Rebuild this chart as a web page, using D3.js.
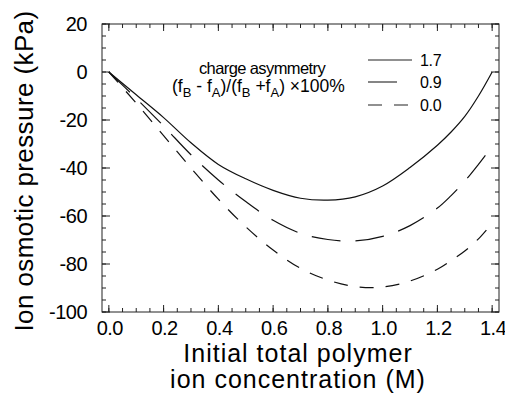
<!DOCTYPE html>
<html>
<head>
<meta charset="utf-8">
<script src="https://cdn.jsdelivr.net/npm/d3@7"></script>
<style>
  body { margin: 0; background: #fff; }
  text { font-family: "Liberation Sans", Arial, sans-serif; fill: #000; }
</style>
</head>
<body>
<div class="board"></div>
<script>
// osmotic pressure vs polymer ion concentration, three charge asymmetries

var width = 505;
var height = 396;

var conc = [0, 0.1, 0.2, 0.3, 0.4, 0.5, 0.6, 0.7, 0.8, 0.9, 1.0, 1.1, 1.2, 1.25, 1.3, 1.35, 1.4];
var p17 = [0, -9.5, -19, -29.5, -38.5, -44.5, -49.3, -52.6, -53.4, -52, -47.5, -39.8, -30.5, -25, -18.5, -10, 0];
var p09 = [0, -11, -22.5, -34.5, -45, -54, -61.8, -67.2, -69.8, -70.4, -68.5, -64, -56.7, -51.5, -45.5, -38.5, -31];
var p00 = [0, -13, -26.5, -40, -53, -64.5, -74.2, -81.8, -86.7, -89.4, -89.6, -87.1, -82.2, -78.6, -74.6, -69.5, -63];

var seriesNames = ['1.7', '0.9', '0.0'];
var seriesVals = [p17, p09, p00];
var dashes = [null, '29,15', '14,12'];

var xTicks = [0, 0.2, 0.4, 0.6, 0.8, 1.0, 1.2, 1.4];
var yTicks = [20, 0, -20, -40, -60, -80, -100];

var pLeft = 102, pRight = 499, pTop = 24, pBottom = 312;

var svg = d3.select('.board').append('svg')
    .attr('width', width)
    .attr('height', height);

var x = d3.scaleLinear().domain([-0.025, 1.425]).range([pLeft, pRight]);
var y = d3.scaleLinear().domain([-100, 20]).range([pBottom, pTop]);

// frame
svg.append('rect')
    .attr('x', pLeft).attr('y', pTop)
    .attr('width', pRight - pLeft).attr('height', pBottom - pTop)
    .attr('fill', 'none').attr('stroke', '#222').attr('stroke-width', 1);

// ticks, inward on all four sides
var xMinor = d3.range(0, 1.4001, 0.05);
var yMinor = d3.range(-100, 20.001, 5);

function tickLines(g, vals, len, horiz) {
  vals.forEach(function (v) {
    if (horiz) {
      g.append('line').attr('x1', x(v)).attr('x2', x(v)).attr('y1', pBottom).attr('y2', pBottom - len);
      g.append('line').attr('x1', x(v)).attr('x2', x(v)).attr('y1', pTop).attr('y2', pTop + len);
    } else {
      g.append('line').attr('y1', y(v)).attr('y2', y(v)).attr('x1', pLeft).attr('x2', pLeft + len);
      g.append('line').attr('y1', y(v)).attr('y2', y(v)).attr('x1', pRight).attr('x2', pRight - len);
    }
  });
}
var tg = svg.append('g').attr('stroke', '#222').attr('stroke-width', 1);
tickLines(tg, xMinor, 4, true);
tickLines(tg, xTicks, 7, true);
tickLines(tg, yMinor, 4, false);
tickLines(tg, yTicks, 8, false);

// tick labels
svg.append('g').selectAll('text').data(xTicks).enter().append('text')
    .attr('x', function (d) { return x(d) + 1; })
    .attr('y', 335)
    .attr('text-anchor', 'middle')
    .style('font-size', '20px')
    .style('letter-spacing', '-0.5px')
    .text(function (d) { return d.toFixed(1); });

svg.append('g').selectAll('text').data(yTicks).enter().append('text')
    .attr('x', 87)
    .attr('y', function (d) { return y(d) + 7; })
    .attr('text-anchor', 'end')
    .style('font-size', '20px')
    .style('letter-spacing', '-0.5px')
    .text(function (d) { return d; });

// axis titles
svg.append('text')
    .attr('transform', 'translate(33,' + 171 + ') rotate(-90)')
    .attr('text-anchor', 'middle')
    .style('font-size', '26px')
    .style('letter-spacing', '0.4px')
    .text('Ion osmotic pressure (kPa)');

svg.append('text').attr('x', 298).attr('y', 362)
    .attr('text-anchor', 'middle').style('font-size', '25px')
    .style('letter-spacing', '1px')
    .text('Initial total polymer');
svg.append('text').attr('x', 298).attr('y', 388)
    .attr('text-anchor', 'middle').style('font-size', '25px')
    .style('letter-spacing', '1px')
    .text('ion concentration (M)');

// curves
var line = d3.line()
    .x(function (d, i) { return x(conc[i]); })
    .y(function (d) { return y(d); })
    .curve(d3.curveCatmullRom);

svg.append('g').selectAll('path').data(seriesVals).enter().append('path')
    .attr('d', line)
    .attr('fill', 'none')
    .attr('stroke', '#111')
    .attr('stroke-width', 1.2)
    .attr('stroke-dasharray', function (d, i) { return dashes[i]; });

// legend
var lg = svg.append('g');
lg.append('text').attr('x', 262).attr('y', 74).attr('text-anchor', 'middle')
    .style('font-size', '16.5px').style('letter-spacing', '-0.6px')
    .text('charge asymmetry');
var t2 = lg.append('text').attr('x', 172).attr('y', 92)
    .style('font-size', '17.5px');
t2.append('tspan').text('(f');
t2.append('tspan').attr('dy', 5).style('font-size', '13px').text('B');
t2.append('tspan').attr('dy', -5).text(' - f');
t2.append('tspan').attr('dy', 5).style('font-size', '13px').text('A');
t2.append('tspan').attr('dy', -5).text(')/(f');
t2.append('tspan').attr('dy', 5).style('font-size', '13px').text('B');
t2.append('tspan').attr('dy', -5).text(' +f');
t2.append('tspan').attr('dy', 5).style('font-size', '13px').text('A');
t2.append('tspan').attr('dy', -5).text(') \u00d7100%');

var legY = [60, 82, 105];
seriesNames.forEach(function (name, i) {
  lg.append('line')
      .attr('x1', 368).attr('x2', 412)
      .attr('y1', legY[i]).attr('y2', legY[i])
      .attr('stroke', '#222').attr('stroke-width', 1.1)
      .attr('stroke-dasharray', dashes[i]);
  lg.append('text').attr('x', 420).attr('y', legY[i] + 6)
      .style('font-size', '16px').style('letter-spacing', '-0.3px')
      .text(name);
});
</script>
</body>
</html>
